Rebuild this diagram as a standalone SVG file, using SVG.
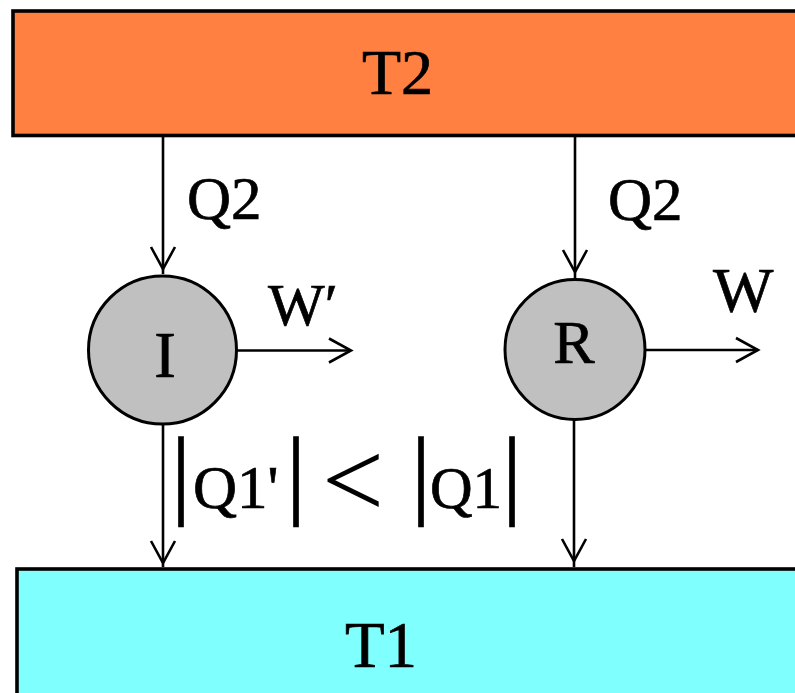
<svg xmlns="http://www.w3.org/2000/svg" width="795" height="693" viewBox="0 0 795 693">
<style>
.t{font-family:"Liberation Serif","Times New Roman",serif;fill:#000;stroke:#000;stroke-width:0.7}
.ln{stroke:#000;stroke-width:2.6;fill:none}
.ah{stroke:#000;stroke-width:2.6;fill:none;stroke-linejoin:miter}
</style>
<defs>
<path id="ahd" d="M-12,-22 L0,0 L12,-22" class="ah"/>
</defs>
<rect width="795" height="693" fill="#fff"/>
<g id="T2">
<rect x="13" y="11" width="800" height="124.5" fill="#FF8040" stroke="#000" stroke-width="3.6"/>
<text class="t" x="397.5" y="94" font-size="64" text-anchor="middle">T2</text>
</g>
<g id="T1">
<rect x="17" y="569" width="800" height="140" fill="#80FFFF" stroke="#000" stroke-width="3.6"/>
<text class="t" x="381" y="667" font-size="65" text-anchor="middle">T1</text>
</g>
<g id="I">
<circle cx="162.5" cy="350" r="74" fill="#C0C0C0" stroke="#000" stroke-width="3"/>
<text class="t" x="165" y="377" font-size="65" text-anchor="middle">I</text>
</g>
<g id="R">
<circle cx="575" cy="349.5" r="70" fill="#C0C0C0" stroke="#000" stroke-width="3"/>
<text class="t" x="574" y="363" font-size="62" text-anchor="middle">R</text>
</g>
<g id="connectors">
<line class="ln" x1="163" y1="137" x2="163" y2="274"/>
<use href="#ahd" transform="translate(163,269)"/>
<line class="ln" x1="575" y1="137" x2="575" y2="279"/>
<use href="#ahd" transform="translate(575,272)"/>
<line class="ln" x1="236" y1="350.5" x2="351" y2="350.5"/>
<use href="#ahd" transform="translate(351,350.5) rotate(-90)"/>
<line class="ln" x1="645" y1="350" x2="758" y2="350"/>
<use href="#ahd" transform="translate(758,350) rotate(-90)"/>
<line class="ln" x1="163" y1="425" x2="163" y2="567"/>
<use href="#ahd" transform="translate(163,563)"/>
<line class="ln" x1="574" y1="420" x2="574" y2="567"/>
<use href="#ahd" transform="translate(574,561)"/>
</g>
<g id="labels">
<text class="t" x="187" y="219" font-size="61">Q2</text>
<text class="t" x="608" y="220" font-size="61">Q2</text>
<text class="t" x="268" y="325" font-size="60">W′</text>
<text class="t" x="713" y="312" font-size="64">W</text>
<text class="t"><tspan x="171" y="506" font-size="100">|</tspan><tspan x="193" y="508" font-size="61">Q1'</tspan><tspan x="286" y="506" font-size="100">|</tspan><tspan x="322" y="517" font-size="110" stroke-width="0">&lt;</tspan><tspan x="411" y="506" font-size="100">|</tspan><tspan x="430" y="508" font-size="59">Q1</tspan><tspan x="502" y="506" font-size="100">|</tspan></text>
</g>
</svg>
